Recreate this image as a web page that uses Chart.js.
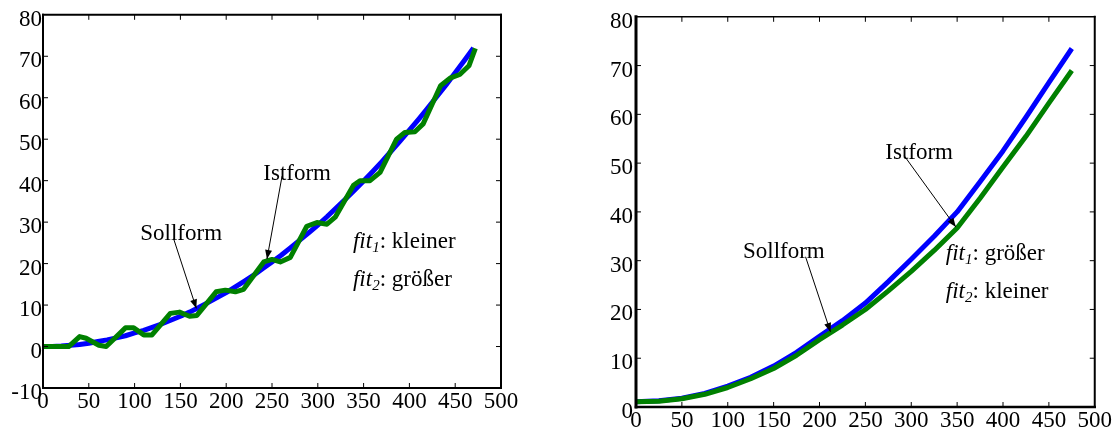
<!DOCTYPE html>
<html><head><meta charset="utf-8">
<script src="https://cdn.jsdelivr.net/npm/chart.js@4.4.1/dist/chart.umd.min.js"></script>
<style>
html,body{margin:0;padding:0;background:#fff;}
#wrap{position:relative;width:1112px;height:436px;overflow:hidden;}
canvas{position:absolute;top:0;}
#c1{left:0;} #c2{left:556px;}
</style></head><body>
<div id="wrap"><canvas id="c1" width="556" height="436"></canvas><canvas id="c2" width="556" height="436"></canvas></div>
<script>
// ---------- data ----------
const xTickValues = [0,50,100,150,200,250,300,350,400,450,500];
const leftYTickValues = [-10,0,10,20,30,40,50,60,70,80];
const rightYTickValues = [0,10,20,30,40,50,60,70,80];

// left chart: Sollform (smooth, blue)
const leftSollX = [0,10,20,30,40,50,60,70,80,90,100,110,120,130,140,150,160,170,180,190,200,210,220,230,240,250,260,270,280,290,300,310,320,330,340,350,360,370,380,390,400,410,420,430,440,450,460,470];
const leftSollY = [0,0.03,0.13,0.3,0.5,0.8,1.2,1.6,2.1,2.6,3.3,3.9,4.7,5.5,6.4,7.3,8.3,9.4,10.6,11.8,13.0,14.4,15.8,17.2,18.8,20.4,22.0,23.8,25.6,27.4,29.3,31.3,33.4,35.5,37.7,39.9,42.2,44.6,47.1,49.6,52.2,54.8,57.5,60.3,63.1,66.0,69.0,72.0];
// left chart: Istform (rippled, green)
const leftIstX = [0,28,40,47,61,69,90,99,110,119,139,149,160,168,189,199,210,219,241,250,259,270,288,299,310,319,339,346,357,368,386,395,406,415,434,445,455,465,472];
const leftIstY = [0,0,2.4,2.0,0.3,0,4.5,4.5,2.8,2.8,8.0,8.3,7.3,7.5,13.2,13.6,13.2,13.8,20.4,21.0,20.4,21.5,29.0,29.9,29.5,31.2,38.9,40.0,40.0,42.0,50.0,51.6,51.8,53.7,62.9,64.8,65.6,67.7,71.9];

// right chart
const rightX = [0,25,50,75,100,125,150,175,200,225,250,275,300,325,350,375,400,425,450,475];
const rightSollY = [1.1,1.3,1.8,2.8,4.3,6.1,8.4,11.2,14.5,17.7,21.3,25.7,30.3,35.0,40.0,46.2,52.5,59.4,66.5,73.5];
const rightIstY  = [1.1,1.2,1.7,2.6,4.0,5.8,7.9,10.6,13.8,16.8,20.0,23.8,27.8,32.1,36.7,42.8,49.2,55.5,62.3,69.0];

// annotations (data coordinates)
const leftNotes = {
  ist:  {text:'Istform',  at:[240.5,40.1], from:[261,41.1], to:[244.5,21.1]},
  soll: {text:'Sollform', at:[106.2,25.6], from:[142.6,26.0], to:[167.4,9.2]},
  fit:  {at:[338.4,23.7], at2:[338.4,14.6], t1:'kleiner', t2:'größer'}
};
const rightNotes = {
  ist:  {text:'Istform',  at:[271.7,50.9], from:[292.4,51.5], to:[348.6,36.9]},
  soll: {text:'Sollform', at:[116.6,30.5], from:[184.8,30.8], to:[212,15.4]},
  fit:  {at:[337.7,30.1], at2:[337.7,22.3], t1:'größer', t2:'kleiner'}
};

const FONT = '"Liberation Serif", "Times New Roman", serif';
const BLUE = '#0000ff', GREEN = '#008000';

function pts(xs, ys){ return xs.map((x,i)=>({x:x, y:ys[i]})); }

function framePlugin(frame, notes){
  return {
    id:'frame',
    afterDatasetsDraw(chart){
      const ctx = chart.ctx;
      const {left,right,top,bottom} = chart.chartArea;
      const xs = chart.scales.x, ys = chart.scales.y;
      ctx.save();
      ctx.strokeStyle = '#000';
      ctx.lineCap = 'square';
      function seg(x1,y1,x2,y2,w){ ctx.lineWidth=w; ctx.beginPath(); ctx.moveTo(x1,y1); ctx.lineTo(x2,y2); ctx.stroke(); }
      seg(left,top,right,top,frame.top);
      seg(right,top,right,bottom,frame.right);
      seg(left,bottom,right,bottom,frame.bottom);
      seg(left,top,left,bottom,frame.left);
      ctx.lineCap='butt';
      const TL = 5;
      xs.ticks.forEach(t=>{
        const p = xs.getPixelForValue(t.value);
        if (t.value===xs.min || t.value===xs.max) return;
        seg(p,bottom,p,bottom-TL,1);
        seg(p,top,p,top+TL,1);
      });
      ys.ticks.forEach(t=>{
        const p = ys.getPixelForValue(t.value);
        if (t.value===ys.min || t.value===ys.max) return;
        seg(left,p,left+TL,p,1);
        seg(right,p,right-TL,p,1);
      });
      // annotations
      const P = (d)=>[xs.getPixelForValue(d[0]), ys.getPixelForValue(d[1])];
      ctx.fillStyle='#000';
      ctx.textBaseline='alphabetic';
      ctx.textAlign='left';
      ctx.font = '23px '+FONT;
      [notes.ist, notes.soll].forEach(n=>{
        const a = P(n.at); ctx.fillText(n.text, a[0], a[1]);
        const f = P(n.from), t = P(n.to);
        seg(f[0],f[1],t[0],t[1],1);
        const ang = Math.atan2(t[1]-f[1], t[0]-f[0]);
        const L=9, W=3.5;
        ctx.beginPath();
        ctx.moveTo(t[0],t[1]);
        ctx.lineTo(t[0]-L*Math.cos(ang)+W*Math.sin(ang), t[1]-L*Math.sin(ang)-W*Math.cos(ang));
        ctx.lineTo(t[0]-L*Math.cos(ang)-W*Math.sin(ang), t[1]-L*Math.sin(ang)+W*Math.cos(ang));
        ctx.closePath(); ctx.fill();
      });
      function fitText(pos, sub, rest){
        const a = P(pos); let x = a[0]; const y = a[1];
        ctx.font = 'italic 23px '+FONT; ctx.fillText('fit', x, y); x += ctx.measureText('fit').width;
        ctx.font = 'italic 15px '+FONT; ctx.fillText(sub, x, y+4); x += ctx.measureText(sub).width;
        ctx.font = '23px '+FONT; ctx.fillText(': '+rest, x, y);
      }
      fitText(notes.fit.at, '1', notes.fit.t1);
      fitText(notes.fit.at2, '2', notes.fit.t2);
      ctx.restore();
    }
  };
}

function makeChart(id, cfg){
  return new Chart(document.getElementById(id), {
    type:'line',
    data:{datasets:[
      {data:cfg.blue, borderColor:BLUE, borderWidth:cfg.bw, pointRadius:0, tension:0, borderJoinStyle:'round', fill:false, order:2},
      {data:cfg.green, borderColor:GREEN, borderWidth:cfg.gw, pointRadius:0, tension:0, borderJoinStyle:'round', fill:false, order:1}
    ]},
    options:{
      responsive:false, animation:false, devicePixelRatio:1,
      events:[],
      layout:{padding:cfg.padding},
      plugins:{legend:{display:false}, tooltip:{enabled:false}},
      scales:{
        x:{type:'linear', min:0, max:500, grid:{display:false, drawTicks:false}, border:{display:false},
           afterBuildTicks(s){ s.ticks = xTickValues.map(v=>({value:v})); },
           afterFit(s){ s.height = cfg.xH; },
           ticks:{color:'#000', font:{family:FONT, size:23}, padding:cfg.xPad, maxRotation:0, autoSkip:false, labelOffset:cfg.xLabOff}},
        y:{type:'linear', min:cfg.yTicks[0], max:cfg.yTicks[cfg.yTicks.length-1], grid:{display:false, drawTicks:false}, border:{display:false},
           afterBuildTicks(s){ s.ticks = cfg.yTicks.map(v=>({value:v})); },
           afterFit(s){ s.width = cfg.yW; },
           ticks:{color:'#000', font:{family:FONT, size:23}, padding:cfg.yPad, autoSkip:false, labelOffset:5}}
      }
    },
    plugins:[framePlugin(cfg.frame, cfg.notes)]
  });
}

makeChart('c1', {
  blue: pts(leftSollX, leftSollY), green: pts(leftIstX, leftIstY), bw:5, gw:5,
  padding:{left:0, top:14, right:55, bottom:0}, xH:48, yW:43, xPad:0, yPad:1, xLabOff:0,
  yTicks:leftYTickValues, frame:{top:2,right:2,bottom:2,left:2}, notes:leftNotes
});
makeChart('c2', {
  blue: pts(rightX, rightSollY), green: pts(rightX, rightIstY), bw:5, gw:5,
  padding:{left:0, top:16, right:16, bottom:0}, xH:29, yW:80, xPad:0, yPad:3, xLabOff:0,
  yTicks:rightYTickValues, frame:{top:1.5,right:2,bottom:2.5,left:3}, notes:rightNotes
});
</script>
</body></html>
